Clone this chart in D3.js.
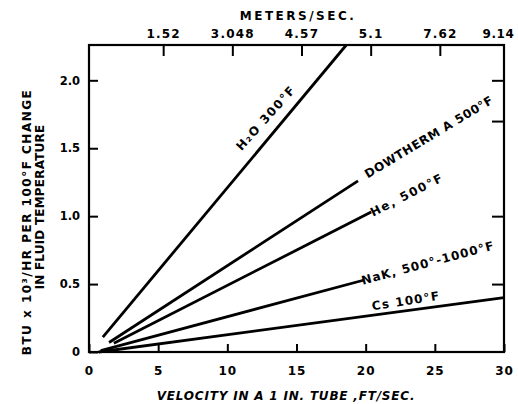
<!DOCTYPE html>
<html><head><meta charset="utf-8">
<script src="https://cdn.jsdelivr.net/npm/d3@7/dist/d3.min.js"></script>
<style>
body{margin:0;background:#fff}
svg{display:block}
text{font-family:"DejaVu Sans",sans-serif;font-weight:bold;fill:#000}
</style>
</head><body><svg id="c" width="518" height="404"></svg>
<script>
// ---- data ----
const seriesNames = ["H\u2082O 300\u00B0F","DOWTHERM A 500\u00B0F","He, 500\u00B0F","NaK, 500\u00B0-1000\u00B0F","Cs 100\u00B0F"];
const velocityStart = [1.0, 1.45, 1.8, 0.85, 0.7];
const velocityEnd   = [18.6, 19.45, 20.4, 19.9, 30];
const heatStart     = [0.11, 0.07, 0.065, 0.01, 0.0];
const heatEnd       = [2.26, 1.26, 1.03, 0.53, 0.40];
const xTicks = [0,5,10,15,20,25,30];
const yTicks = [0,0.5,1.0,1.5,2.0];
const yTickLabels = ["0","0.5","1.0","1.5","2.0"];
const topTicks = [5,10,15,20,25,30];
const topTickLabels = ["1.52","3.048","4.57","5.1","7.62","9.14"];
const rightTicks = [0.5,1.0,1.7,2.0];

// ---- layout ----
const W=518,H=404, L=89,R=504,T=45,B=352;
const svg=d3.select("#c");
svg.append("rect").attr("width",W).attr("height",H).attr("fill","#fff");
const x=d3.scaleLinear().domain([0,30]).range([L,R]);
const y=d3.scaleLinear().domain([0,2.26]).range([B,T]);

function styleAxis(g,fs){
  g.attr("font-family","DejaVu Sans").attr("font-size",fs).attr("font-weight","bold");
  g.select(".domain").remove();
  g.selectAll(".tick line").attr("stroke-width",2);
}
// bottom
const gB=svg.append("g").attr("transform",`translate(0,${B})`)
  .call(d3.axisBottom(x).tickValues(xTicks).tickSize(-8).tickPadding(14).tickFormat(d3.format("d")));
styleAxis(gB,12);
gB.selectAll("text").attr("letter-spacing",1);
// left
const gL=svg.append("g").attr("transform",`translate(${L},0)`)
  .call(d3.axisLeft(y).tickValues(yTicks).tickSize(-9).tickPadding(9).tickFormat((d,i)=>yTickLabels[i]));
styleAxis(gL,11.5);
// top
const gT=svg.append("g").attr("transform",`translate(5,${T})`)
  .call(d3.axisTop(x).tickValues(topTicks).tickSize(-11).tickPadding(7).tickFormat((d,i)=>topTickLabels[i]));
styleAxis(gT,12);
gT.selectAll("text").attr("letter-spacing",1.2);
const lastTop=gT.selectAll(".tick").filter(d=>d===30);
lastTop.select("line").remove();
lastTop.select("text").attr("text-anchor","end").attr("x",5).attr("letter-spacing",0.6);
// right
const gR=svg.append("g").attr("transform",`translate(${R},0)`)
  .call(d3.axisRight(y).tickValues(rightTicks).tickSize(-12).tickFormat(""));
styleAxis(gR,12);

// frame
svg.append("rect").attr("x",L).attr("y",T).attr("width",R-L).attr("height",B-T)
  .attr("fill","none").attr("stroke","#000").attr("stroke-width",2.2);

// series lines
const series=seriesNames.map((n,i)=>({name:n,pts:[[velocityStart[i],heatStart[i]],[velocityEnd[i],heatEnd[i]]]}));
const line=d3.line().x(d=>x(d[0])).y(d=>y(d[1]));
svg.append("g").selectAll("path").data(series).join("path")
  .attr("d",d=>line(d.pts)).attr("fill","none").attr("stroke","#000").attr("stroke-width",2.8);

// series labels (centre in px, angle, spacing)
const labelPlace=[[266,118,-48,1.5],[429,137,-31,0.6],[407,195,-27,1.6],[428,263,-15,1.1],[406,301,-9,1.2]];
svg.append("g").selectAll("text").data(series).join("text")
  .attr("transform",(d,i)=>`translate(${labelPlace[i][0]},${labelPlace[i][1]}) rotate(${labelPlace[i][2]})`)
  .attr("text-anchor","middle").attr("dominant-baseline","central")
  .attr("font-size",12).attr("letter-spacing",(d,i)=>labelPlace[i][3]).text(d=>d.name);

// axis titles
svg.append("text").attr("x",298).attr("y",20).attr("text-anchor","middle")
  .attr("font-size",12).attr("letter-spacing",2.5).text("METERS/SEC.");
svg.append("text").attr("x",286).attr("y",400).attr("text-anchor","middle")
  .attr("font-size",12).attr("font-style","italic").attr("letter-spacing",0.8)
  .text("VELOCITY IN A 1 IN. TUBE ,FT/SEC.");
svg.append("text").attr("transform","translate(31,222) rotate(-90)").attr("text-anchor","middle")
  .attr("font-size",12).attr("letter-spacing",1.5).text("BTU x 10\u00B3/HR PER 100\u00B0F CHANGE");
svg.append("text").attr("transform","translate(44,207) rotate(-90)").attr("text-anchor","middle")
  .attr("font-size",12).attr("letter-spacing",0.2).text("IN FLUID TEMPERATURE");
</script></body></html>
